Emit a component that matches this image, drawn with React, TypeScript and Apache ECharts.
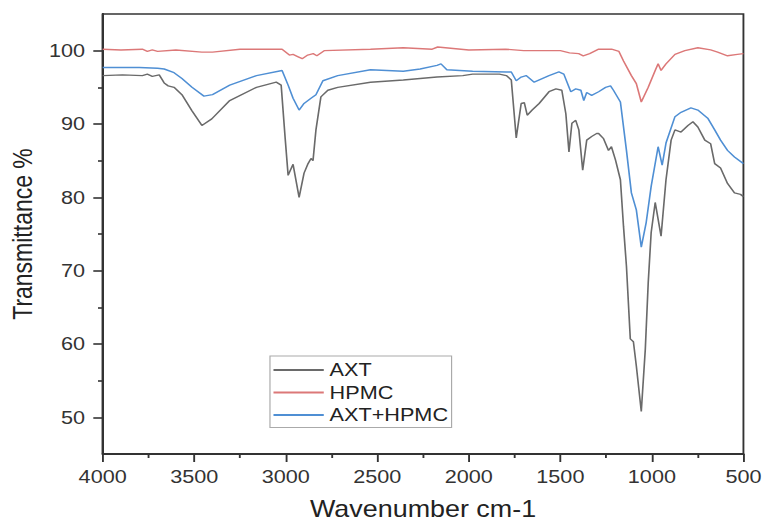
import React, { useEffect, useRef } from "react";
import * as echarts from "echarts";

const axtWave = [4000, 3892, 3783, 3756, 3729, 3691, 3664, 3642, 3610, 3567, 3512, 3458, 3404, 3306, 3160, 3052, 3025, 3003, 2987, 2960, 2927, 2900, 2878, 2862, 2851, 2835, 2808, 2770, 2716, 2537, 2358, 2174, 2033, 1979, 1833, 1795, 1768, 1741, 1714, 1697, 1681, 1654, 1616, 1562, 1524, 1492, 1470, 1453, 1437, 1416, 1399, 1378, 1356, 1329, 1302, 1291, 1264, 1237, 1221, 1199, 1172, 1155, 1139, 1118, 1101, 1085, 1058, 1036, 1020, 1004, 982, 950, 923, 895, 874, 841, 803, 776, 749, 711, 679, 657, 625, 587, 549, 516, 500];
const axtT = [96.6, 96.7, 96.6, 96.8, 96.5, 96.7, 95.6, 95.2, 95.0, 94.0, 91.8, 89.8, 90.7, 93.2, 95.0, 95.7, 95.3, 88.0, 83.0, 84.5, 80.0, 83.3, 84.6, 85.3, 85.0, 89.2, 93.7, 94.6, 95.0, 95.7, 96.0, 96.4, 96.6, 96.8, 96.8, 96.6, 96.0, 88.1, 92.8, 92.9, 91.2, 91.9, 92.8, 94.4, 94.8, 94.6, 91.4, 86.2, 90.1, 90.5, 89.2, 83.7, 87.8, 88.3, 88.7, 88.7, 88.0, 86.4, 86.9, 85.1, 82.4, 76.0, 70.6, 60.7, 60.3, 57.0, 50.8, 59.3, 68.4, 75.2, 79.3, 74.7, 82.4, 87.8, 89.2, 88.9, 89.8, 90.3, 89.6, 87.8, 87.3, 84.6, 84.0, 81.9, 80.6, 80.4, 80.1];

const hpmcWave = [4000, 3900, 3783, 3756, 3729, 3700, 3600, 3458, 3400, 3250, 3020, 2980, 2960, 2935, 2910, 2880, 2850, 2830, 2790, 2537, 2358, 2200, 2170, 2000, 1800, 1700, 1500, 1450, 1400, 1375, 1340, 1291, 1220, 1180, 1155, 1112, 1085, 1058, 1020, 982, 966, 950, 923, 874, 820, 749, 679, 641, 587, 533, 500];
const hpmcT = [100.2, 100.1, 100.2, 99.9, 100.1, 99.9, 100.1, 99.8, 99.8, 100.2, 100.2, 99.4, 99.5, 99.2, 98.9, 99.4, 99.6, 99.3, 100.0, 100.2, 100.4, 100.2, 100.5, 100.1, 100.2, 100.0, 100.0, 99.7, 99.6, 99.3, 99.6, 100.2, 100.2, 99.9, 98.6, 96.6, 95.5, 93.0, 95.0, 97.3, 98.2, 97.3, 98.2, 99.5, 100.0, 100.4, 100.1, 99.8, 99.3, 99.5, 99.6];

const blendWave = [4000, 3800, 3700, 3664, 3610, 3567, 3512, 3447, 3400, 3306, 3160, 3020, 2987, 2960, 2927, 2900, 2862, 2835, 2797, 2716, 2537, 2358, 2266, 2174, 2152, 2120, 1979, 1795, 1768, 1741, 1714, 1687, 1643, 1562, 1508, 1481, 1443, 1416, 1388, 1372, 1356, 1329, 1291, 1253, 1226, 1210, 1172, 1139, 1112, 1085, 1058, 1031, 1004, 966, 944, 923, 874, 841, 787, 749, 695, 657, 625, 587, 549, 500];
const blendT = [97.7, 97.7, 97.6, 97.5, 97.0, 96.2, 95.0, 93.8, 94.0, 95.3, 96.6, 97.3, 95.3, 93.5, 91.9, 92.8, 93.5, 94.0, 95.9, 96.6, 97.4, 97.2, 97.5, 98.0, 98.2, 97.4, 97.2, 97.1, 97.1, 95.9, 96.4, 96.6, 95.7, 96.6, 97.1, 96.8, 94.4, 94.8, 94.6, 93.2, 94.3, 93.9, 94.4, 95.0, 95.2, 94.6, 93.0, 86.4, 80.6, 78.3, 73.2, 76.6, 81.5, 86.9, 84.4, 87.4, 91.0, 91.6, 92.2, 91.9, 90.8, 89.2, 87.8, 86.4, 85.5, 84.6];

const seriesNames = ["AXT", "HPMC", "AXT+HPMC"];
const seriesColors = ["#6a6a6a", "#dc7878", "#4f8fd4"];
const yMajor = [50, 60, 70, 80, 90, 100];
const yMinor = [55, 65, 75, 85, 95];

const NATIVE_W = 654;
const SCALE = 765 / NATIVE_W;
const FONT = "'Liberation Sans', Arial, sans-serif";

const pair = (w: number[], t: number[]) => w.map((x, i) => [x, t[i]]);

export default function App() {
  const ref = useRef<HTMLDivElement>(null);
  useEffect(() => {
    if (!ref.current) return;
    const chart = echarts.init(ref.current, null, { renderer: "svg" });
    const datasets = [pair(axtWave, axtT), pair(hpmcWave, hpmcT), pair(blendWave, blendT)];
    chart.setOption({
      animation: false,
      grid: {
        left: 85.5,
        right: 16.4,
        top: 14,
        bottom: 69,
        show: true,
        borderColor: "#333",
        borderWidth: 1.6,
      },
      legend: {
        orient: "vertical",
        left: 230.8,
        top: 356,
        padding: [4, 3, 2.5, 3],
        itemGap: 2.5,
        itemWidth: 43,
        itemHeight: 2,
        icon: "rect",
        borderColor: "#aaa",
        borderWidth: 1,
        borderRadius: 0,
        data: seriesNames,
        textStyle: { fontSize: 18.5, color: "#222", lineHeight: 20, height: 20, fontFamily: FONT },
      },
      xAxis: {
        type: "value",
        min: 500,
        max: 4000,
        interval: 500,
        inverse: true,
        name: "Wavenumber cm-1",
        nameLocation: "middle",
        nameGap: 43,
        nameTextStyle: { fontSize: 23, color: "#222", fontFamily: FONT },
        axisLine: { lineStyle: { color: "#333", width: 1.8 } },
        axisTick: { show: true, length: 8, lineStyle: { color: "#333", width: 1.6 } },
        minorTick: { show: true, splitNumber: 2, length: 4, lineStyle: { color: "#333", width: 1.6 } },
        axisLabel: {
          fontSize: 18.5,
          color: "#333",
          margin: 13,
          fontFamily: FONT,
          formatter: (v: number) => String(v),
        },
        splitLine: { show: false },
        minorSplitLine: { show: false },
      },
      yAxis: [
        {
          type: "value",
          min: 45,
          max: 105,
          interval: 5,
          name: "Transmittance %",
          nameLocation: "middle",
          nameGap: 45.5,
          nameTextStyle: { fontSize: 23, color: "#222", fontFamily: FONT },
          axisLine: { show: true, lineStyle: { color: "#333", width: 1.8 } },
          axisTick: { show: true, length: 8, customValues: yMajor, lineStyle: { color: "#333", width: 1.6 } },
          axisLabel: { fontSize: 18.5, color: "#333", margin: 15, customValues: yMajor, fontFamily: FONT },
          splitLine: { show: false },
        },
        {
          type: "value",
          min: 45,
          max: 105,
          interval: 5,
          position: "left",
          offset: 0,
          axisLine: { show: true, lineStyle: { color: "#333", width: 1.8 } },
          axisTick: { show: true, length: 4, customValues: yMinor, lineStyle: { color: "#333", width: 1.6 } },
          axisLabel: { show: false },
          splitLine: { show: false },
        },
      ],
      series: datasets.map((d, i) => ({
        name: seriesNames[i],
        type: "line",
        data: d,
        yAxisIndex: 0,
        showSymbol: false,
        symbol: "none",
        lineStyle: { color: seriesColors[i], width: 1.4 },
        itemStyle: { color: seriesColors[i] },
        z: 3 - i,
      })),
    });
    return () => chart.dispose();
  }, []);
  return (
    <div style={{ position: "fixed", left: 0, top: 0, width: 765, height: 525, overflow: "hidden", background: "#fff" }}>
      <div
        ref={ref}
        style={{ width: NATIVE_W, height: 525, transform: `scaleX(${SCALE})`, transformOrigin: "0 0" }}
      />
    </div>
  );
}
